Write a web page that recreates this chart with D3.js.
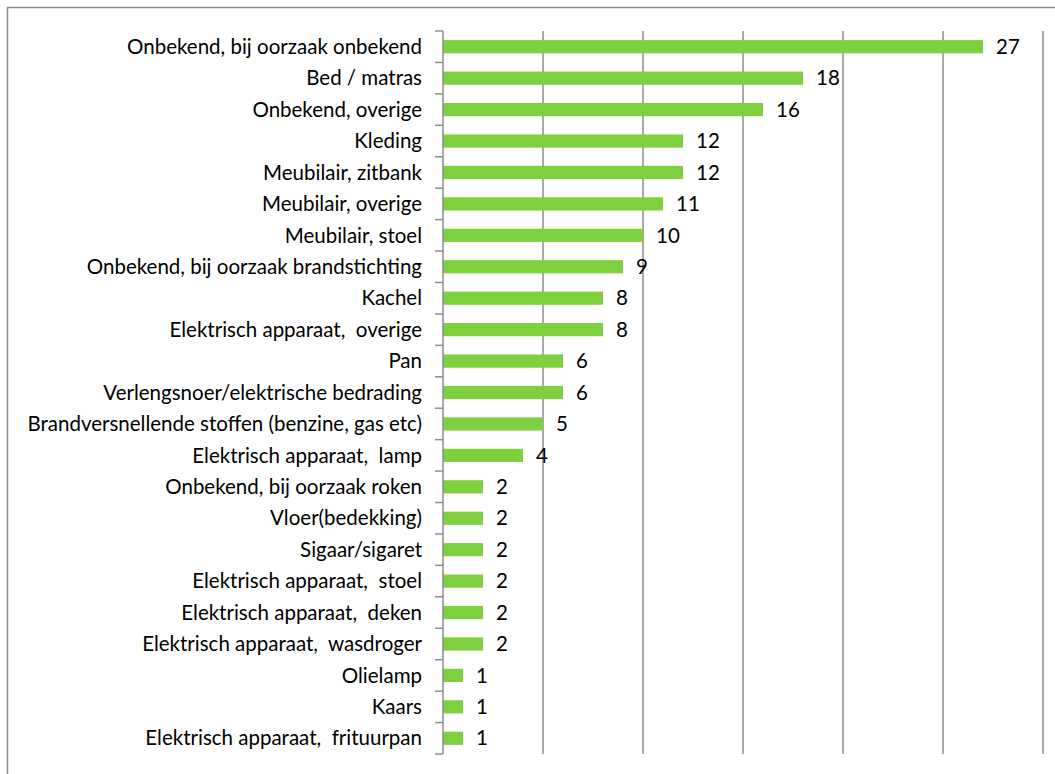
<!DOCTYPE html>
<html><head><meta charset="utf-8">
<script src="https://cdn.jsdelivr.net/npm/d3@7/dist/d3.min.js"></script>
<style>body{margin:0;background:#fff}svg{display:block}text{font-family:Lato,"Open Sans",sans-serif;fill:#000}</style>
</head><body><svg id="c" width="1055" height="774"></svg>
<script>
const categories = ["Onbekend, bij oorzaak onbekend","Bed / matras","Onbekend, overige","Kleding","Meubilair, zitbank","Meubilair, overige","Meubilair, stoel","Onbekend, bij oorzaak brandstichting","Kachel","Elektrisch apparaat,  overige","Pan","Verlengsnoer/elektrische bedrading","Brandversnellende stoffen (benzine, gas etc)","Elektrisch apparaat,  lamp","Onbekend, bij oorzaak roken","Vloer(bedekking)","Sigaar/sigaret","Elektrisch apparaat,  stoel","Elektrisch apparaat,  deken","Elektrisch apparaat,  wasdroger","Olielamp","Kaars","Elektrisch apparaat,  frituurpan"];
const values = [27,18,16,12,12,11,10,9,8,8,6,6,5,4,2,2,2,2,2,2,1,1,1];
const xTicks = [0,5,10,15,20,25,30];

const svg = d3.select("#c");
svg.append("rect").attr("x",7.5).attr("y",7.5).attr("width",1060).attr("height",780)
  .attr("fill","none").attr("stroke","#8c8c8c").attr("stroke-width",1.5);

const x = d3.scaleLinear().domain([0,30]).range([443,1043]);
const y = d3.scaleBand().domain(categories).range([31,754]).paddingInner(0.58).paddingOuter(0.29);
const band = d3.scaleBand().domain(categories).range([31,754]);

// gridlines
svg.append("g").selectAll("line").data(xTicks.slice(1)).join("line")
  .attr("x1",d=>x(d)).attr("x2",d=>x(d)).attr("y1",31).attr("y2",754)
  .attr("stroke","#8c8c8c").attr("stroke-width",1.5);

// bars
svg.append("g").selectAll("rect").data(values).join("rect")
  .attr("x",x(0)).attr("y",(d,i)=>y(categories[i]))
  .attr("width",d=>x(d)-x(0)).attr("height",y.bandwidth())
  .attr("fill","#7ed03f");

// axis line and ticks
const ax = svg.append("g");
ax.append("line").attr("x1",443).attr("x2",443).attr("y1",31).attr("y2",754).attr("stroke","#8c8c8c").attr("stroke-width",1.5);
const bounds = categories.map(c=>band(c)).concat([754]);
ax.selectAll("line.t").data(bounds).join("line").attr("class","t")
  .attr("x1",435).attr("x2",443).attr("y1",d=>d).attr("y2",d=>d)
  .attr("stroke","#8c8c8c").attr("stroke-width",1.5);

// category labels
svg.append("g").selectAll("text").data(categories).join("text")
  .attr("x",422).attr("y",d=>band(d)+band.bandwidth()/2).attr("dy","0.35em")
  .attr("text-anchor","end").attr("font-size",20.5).style("white-space","pre").text(d=>d);

// value labels
svg.append("g").selectAll("text").data(values).join("text")
  .attr("x",d=>x(d)+13).attr("y",(d,i)=>band(categories[i])+band.bandwidth()/2).attr("dy","0.35em")
  .attr("font-size",20.5).text(d=>d);
</script></body></html>
